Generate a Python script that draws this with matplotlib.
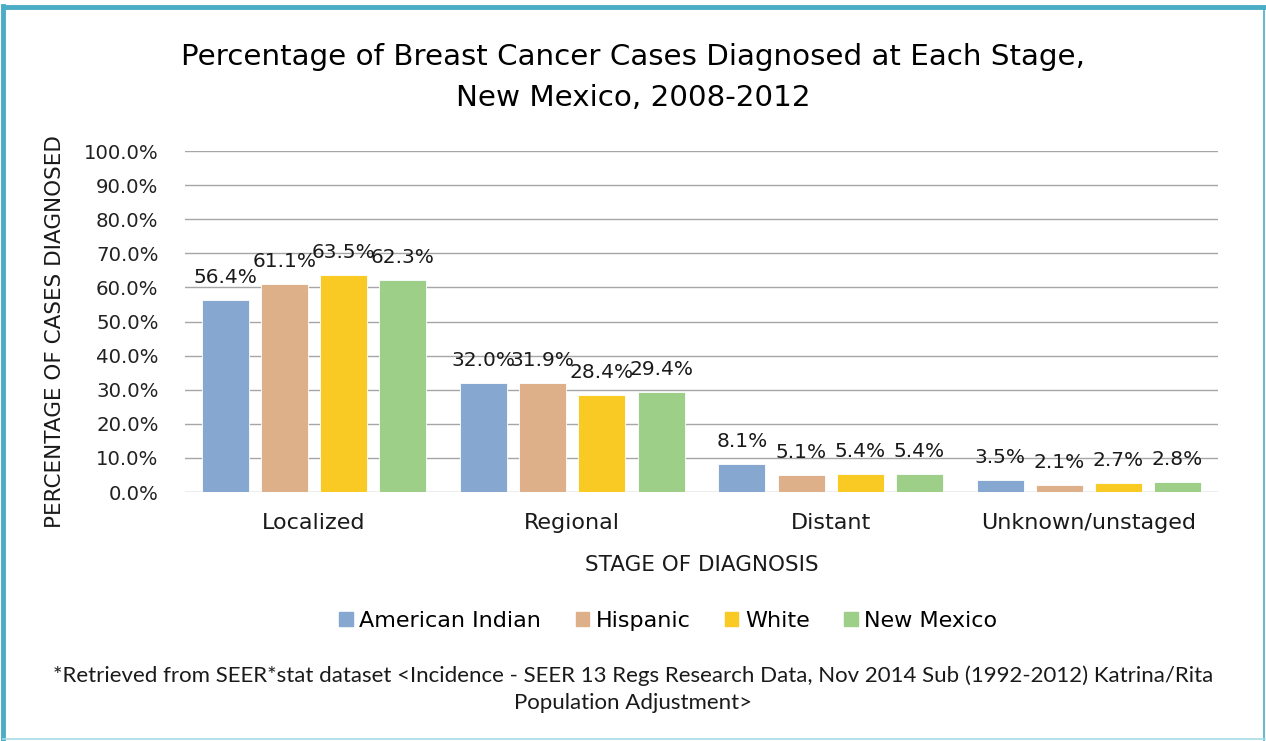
import numpy as np
import matplotlib.pyplot as plt
from matplotlib.lines import Line2D
from matplotlib.ticker import FuncFormatter

# Werte aus der Grafik
stages = ["Localized", "Regional", "Distant", "Unknown/unstaged"]
groups = ["American Indian", "Hispanic", "White", "New Mexico"]
american_indian = [56.4, 32.0, 8.1, 3.5]
hispanic = [61.1, 31.9, 5.1, 2.1]
white = [63.5, 28.4, 5.4, 2.7]
new_mexico = [62.3, 29.4, 5.4, 2.8]
colors = ["#86A8D0", "#DEB08A", "#F9CA24", "#9DCF88"]

font = "DejaVu Sans"

fig = plt.figure(figsize=(12.66, 7.41), dpi=100)
ax = fig.add_axes([0.1461, 0.336, 0.816, 0.4602])

x = np.arange(len(stages))
step = 0.229
width = 0.182
for i, (vals, name) in enumerate(zip([american_indian, hispanic, white, new_mexico], groups)):
    pos = x + (i - 1.5) * step
    bars = ax.bar(pos, vals, width, color=colors[i], edgecolor="white", linewidth=0.6,
                  label=name, zorder=3)
    for b, v in zip(bars, vals):
        ax.text(b.get_x() + b.get_width() / 2, v + 5.0, f"{v:.1f}%", ha="center", va="baseline",
                fontsize=14.5, family=font, color="#1a1a1a", zorder=4)

ax.set_xlim(-0.5, 3.5)
ax.set_ylim(0, 100)
ax.set_yticks(np.arange(0, 101, 10))
ax.yaxis.set_major_formatter(FuncFormatter(lambda v, p: f"{v:.1f}%"))
ax.grid(axis="y", color="#A6A6A6", linewidth=1.0, zorder=0)
for s in ax.spines.values():
    s.set_visible(False)
ax.tick_params(axis="y", length=0, labelsize=14.2, pad=19, labelcolor="#222222")
ax.set_xticks(x)
ax.set_xticklabels(stages, fontsize=16, family=font, color="#1a1a1a")
ax.tick_params(axis="x", length=0, pad=15)
for t in ax.get_yticklabels():
    t.set_family(font)

ax.set_xlabel("STAGE OF DIAGNOSIS", fontsize=15.5, family=font, color="#1a1a1a")
ax.xaxis.set_label_coords(0.5, -0.186)
ax.set_ylabel("PERCENTAGE OF CASES DIAGNOSED", fontsize=15.5, family=font, color="#1a1a1a")
ax.yaxis.set_label_coords(-0.116, 0.47)

fig.text(0.5, 0.923, "Percentage of Breast Cancer Cases Diagnosed at Each Stage,",
         ha="center", va="center", fontsize=21.2, family=font)
fig.text(0.5, 0.868, "New Mexico, 2008-2012", ha="center", va="center", fontsize=21.2, family=font)

handles = [plt.Rectangle((0, 0), 1, 1, color=c) for c in colors]
fig.legend(handles, groups, loc="center", bbox_to_anchor=(0.528, 0.162), ncol=4, frameon=False,
           prop={"family": font, "size": 16}, handlelength=0.6, handleheight=0.6,
           handletextpad=0.3, columnspacing=1.55)

fig.text(0.5, 0.088, "*Retrieved from SEER*stat dataset <Incidence - SEER 13 Regs Research Data, "
         "Nov 2014 Sub (1992-2012) Katrina/Rita", ha="center", va="center", fontsize=16,
         family="Lato", color="#1a1a1a")
fig.text(0.5, 0.051, "Population Adjustment>", ha="center", va="center", fontsize=16,
         family="Lato", color="#1a1a1a")

# Rahmen
teal = "#4BACC6"
fig.add_artist(Line2D([0.002, 0.999], [0.9905, 0.9905], transform=fig.transFigure, color=teal, lw=3.5))
fig.add_artist(Line2D([0.0025, 0.0025], [0.0, 0.992], transform=fig.transFigure, color=teal, lw=3.5))
fig.add_artist(Line2D([0.9985, 0.9985], [0.0, 0.992], transform=fig.transFigure, color=teal, lw=1.2))
fig.add_artist(Line2D([0.002, 0.999], [0.0025, 0.0025], transform=fig.transFigure, color="#A6DCE6", lw=1.2))

fig.savefig("out.png", dpi=100)
